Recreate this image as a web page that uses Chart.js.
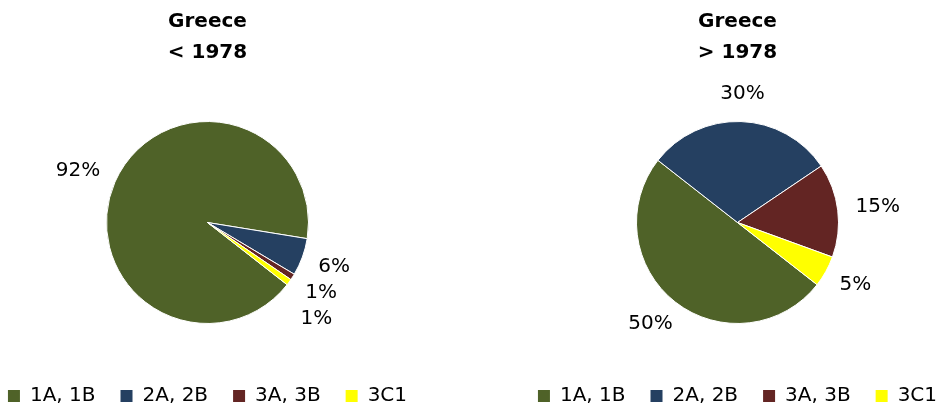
<!DOCTYPE html>
<html lang="en">
<head>
<meta charset="UTF-8" />
<title>Greece - pie charts</title>
<script src="https://cdn.jsdelivr.net/npm/chart.js"></script>
<style>
  body { margin: 0; background: #fff; }
  .wrap { position: relative; width: 943px; height: 410px; overflow: hidden; }
  .pie { position: absolute; top: 0; width: 472px; height: 410px; }
  #leftBox { left: -30px; }
  #rightBox { left: 500px; }
</style>
</head>
<body>
<div class="wrap">
  <div class="pie" id="leftBox"><canvas id="chartBefore"></canvas></div>
  <div class="pie" id="rightBox"><canvas id="chartAfter"></canvas></div>
</div>
<script>
const categories = ['1A, 1B', '2A, 2B', '3A, 3B', '3C1'];
const before1978 = [92, 6, 1, 1];
const after1978 = [50, 30, 15, 5];
const titleBefore = ['Greece', '< 1978'];
const titleAfter = ['Greece', '> 1978'];
const sliceColors = ['#4F6228', '#254061', '#632523', '#FFFF00'];

const FONT = 'DejaVu Sans';

// percent labels outside each slice, pushed apart when they overlap
const outsideLabels = {
  id: 'outsideLabels',
  afterDatasetsDraw(chart) {
    const ctx = chart.ctx;
    const data = chart.data.datasets[0].data;
    const total = data.reduce((a, b) => a + b, 0);
    ctx.save();
    ctx.font = '20px "' + FONT + '"';
    ctx.fillStyle = '#000';
    ctx.textAlign = 'center';
    ctx.textBaseline = 'middle';
    const items = chart.getDatasetMeta(0).data.map((arc, i) => {
      const p = arc.getProps(['x', 'y', 'startAngle', 'endAngle', 'outerRadius'], true);
      const mid = (p.startAngle + p.endAngle) / 2;
      const text = Math.round(data[i] / total * 100) + '%';
      const w = ctx.measureText(text).width;
      const c = Math.cos(mid), s = Math.sin(mid);
      const r = p.outerRadius + 18;
      return { text, x: p.x + c * r + c * w / 2, y: p.y + s * r + s * 10, right: c >= 0 };
    });
    [true, false].forEach(side => {
      const group = items.filter(it => it.right === side).sort((a, b) => a.y - b.y);
      for (let i = 1; i < group.length; i++) {
        if (group[i].y < group[i - 1].y + 26) group[i].y = group[i - 1].y + 26;
      }
    });
    items.forEach(it => ctx.fillText(it.text, it.x, it.y));
    ctx.restore();
  }
};

function makePie(id, values, title) {
  return new Chart(document.getElementById(id), {
    type: 'pie',
    data: {
      labels: categories,
      datasets: [{ data: values, backgroundColor: sliceColors, borderColor: '#fff', borderWidth: 1 }]
    },
    plugins: [outsideLabels],
    options: {
      responsive: true, maintainAspectRatio: false, animation: false,
      rotation: 128,
      radius: 101,
      layout: { padding: { bottom: -6, left: 3 } },
      plugins: {
        tooltip: { enabled: false },
        title: {
          display: true, text: title, color: '#000',
          font: { family: FONT, size: 20, weight: 'bold', lineHeight: 1.55 },
          padding: { top: 6, bottom: 16 }
        },
        legend: {
          position: 'bottom',
          labels: {
            color: '#000', boxWidth: 12, boxHeight: 12, padding: 25,
            font: { family: FONT, size: 20 },
            generateLabels: chart => categories.map((name, i) => ({
              text: name, fillStyle: sliceColors[i], strokeStyle: sliceColors[i], lineWidth: 0, index: i
            }))
          }
        }
      }
    }
  });
}

makePie('chartBefore', before1978, titleBefore);
makePie('chartAfter', after1978, titleAfter);
</script>
</body>
</html>
